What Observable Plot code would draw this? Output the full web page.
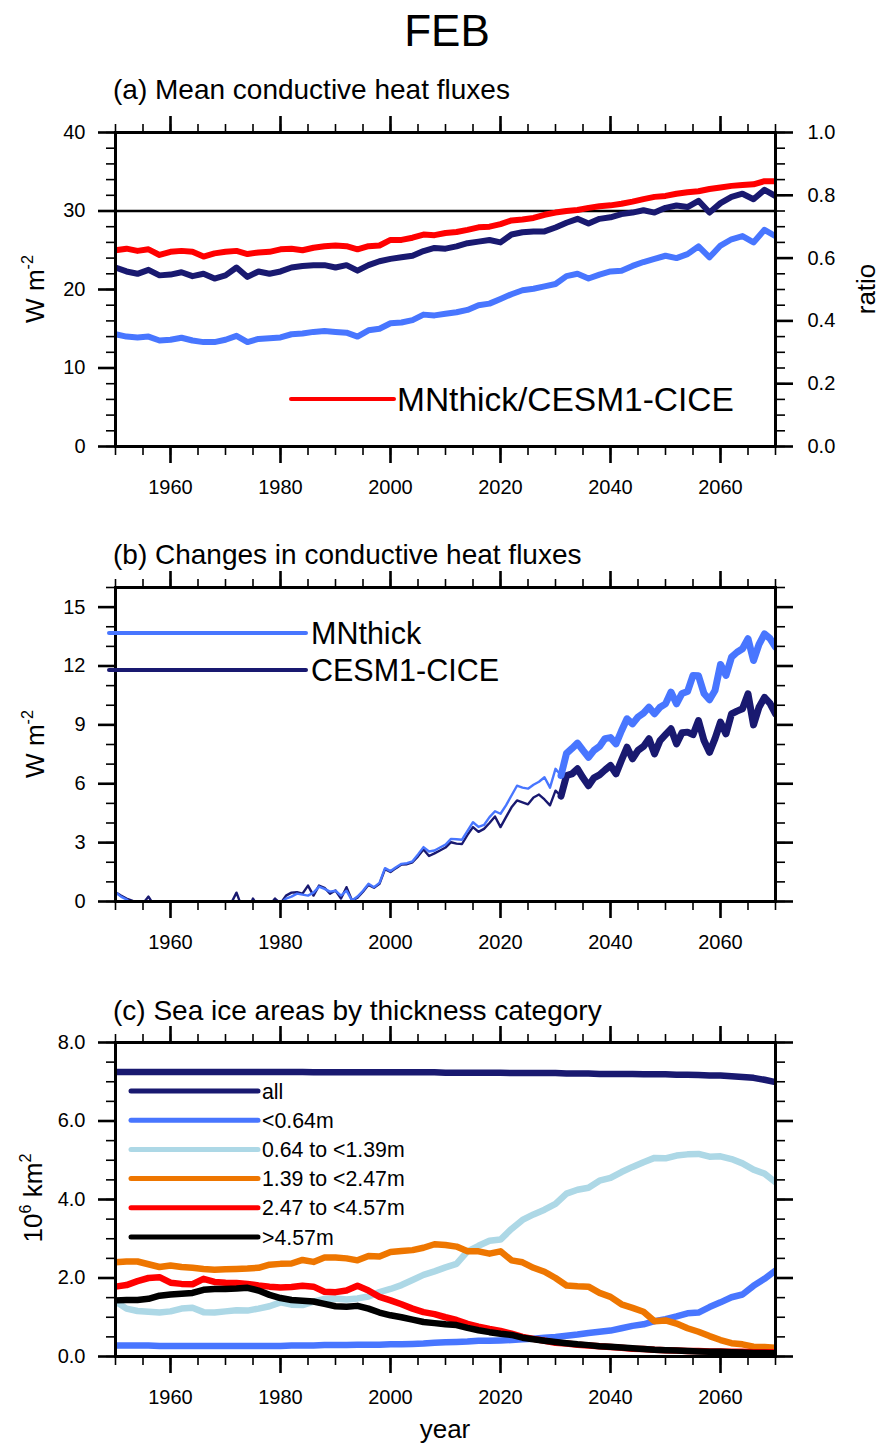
<!DOCTYPE html>
<html><head><meta charset="utf-8">
<script src="https://cdn.jsdelivr.net/npm/d3@7"></script>
<script src="https://cdn.jsdelivr.net/npm/@observablehq/plot@0.6"></script>
<style>
body{margin:0;background:#fff;}
#root{position:relative;width:882px;height:1446px;overflow:hidden;font-family:"Liberation Sans",Arial,Helvetica,sans-serif;}
#overlay{position:absolute;left:0;top:0;}
</style></head><body><div id="root"></div>
<script>
// ---------- data ----------
const years2 = d3.range(1950, 2071, 2);   // biennial readings (panels a, c)
const years1 = d3.range(1950, 2071, 1);   // annual readings (panel b)

const xMajor = [1960, 1980, 2000, 2020, 2040, 2060];
const xMinor = d3.range(1950, 2071, 5);

// (a) mean conductive heat flux, W m-2
const mnFlux = [
 14.3,14.0,13.9,14.0,13.5,13.6,13.85,13.5,13.3,13.3,
 13.6,14.1,13.3,13.7,13.8,13.9,14.3,14.4,14.6,14.7,
 14.6,14.5,14.0,14.8,15.0,15.7,15.8,16.1,16.8,16.7,
 16.9,17.1,17.4,18.0,18.2,18.8,19.4,19.9,20.1,20.4,
 20.7,21.7,22.0,21.4,21.9,22.3,22.4,23.0,23.5,23.9,
 24.3,24.0,24.5,25.5,24.1,25.6,26.4,26.8,26.0,27.6,
 26.8];
const cesmFlux = [
 22.8,22.3,22.0,22.5,21.8,21.9,22.2,21.7,22.0,21.4,
 21.8,22.8,21.6,22.3,22.0,22.3,22.8,23.0,23.1,23.1,
 22.8,23.1,22.4,23.1,23.6,23.9,24.1,24.3,24.9,25.3,
 25.2,25.5,25.9,26.1,26.3,26.0,27.0,27.3,27.4,27.4,
 27.9,28.5,29.0,28.4,29.0,29.2,29.6,29.8,30.1,29.8,
 30.4,30.7,30.5,31.3,29.8,31.0,31.8,32.2,31.5,32.7,
 31.9];
const fluxRatio = [
 0.625,0.630,0.623,0.628,0.610,0.620,0.623,0.620,0.605,0.615,
 0.620,0.623,0.613,0.618,0.620,0.628,0.630,0.625,0.633,0.638,
 0.640,0.638,0.628,0.638,0.640,0.658,0.658,0.665,0.675,0.673,
 0.680,0.683,0.690,0.698,0.700,0.708,0.720,0.723,0.728,0.738,
 0.745,0.750,0.753,0.760,0.765,0.768,0.773,0.780,0.788,0.795,
 0.798,0.805,0.810,0.813,0.820,0.825,0.830,0.833,0.835,0.845,
 0.845];
const ratioRef = 0.75;
const ratioMax = 1.0, fluxMax = 40;

// (b) change in conductive heat flux, W m-2 (annual)
const mnChange = [
 0.47,0.25,0.10,-0.10,-0.30,-0.30,-0.20,-0.40,-0.50,-0.50,
 -0.60,-0.60,-0.50,-0.60,-0.70,-0.80,-0.90,-0.80,-0.80,-0.70,
 -0.50,-0.30,-0.10,-0.60,-0.80,-0.30,-0.50,-0.60,-0.40,-0.20,
 -0.10,0.15,0.25,0.40,0.35,0.30,0.45,0.76,0.64,0.50,
 0.55,0.30,0.55,0.05,0.25,0.55,0.90,0.73,0.95,1.70,
 1.55,1.75,1.92,1.95,2.05,2.40,2.77,2.55,2.60,2.75,
 2.90,3.19,3.17,3.15,3.60,4.04,3.80,3.90,4.30,4.60,
 4.47,4.90,5.40,5.90,5.80,5.75,5.95,6.10,6.33,5.80,
 6.76,6.42,7.55,7.80,8.07,7.70,7.35,7.70,7.90,8.30,
 8.35,8.03,8.70,9.31,9.05,9.40,9.60,9.90,9.56,9.90,
 10.07,10.67,10.07,10.60,10.70,11.52,11.50,10.60,10.28,10.75,
 12.08,11.52,12.45,12.70,12.88,13.39,12.28,13.10,13.64,13.40,
 12.96];
const cesmChange = [
 0.47,0.30,0.15,0.05,-0.10,-0.10,0.25,-0.20,-0.40,-0.50,
 -0.50,-0.40,-0.50,-0.60,-0.60,-0.70,-0.80,-0.70,-0.60,-0.50,
 -0.30,-0.10,0.45,-0.30,-0.50,0.15,-0.30,-0.40,-0.20,0.15,
 -0.10,0.30,0.45,0.47,0.40,0.81,0.30,0.81,0.70,0.40,
 0.56,0.15,0.73,0.05,0.20,0.50,0.85,0.70,0.90,1.65,
 1.50,1.70,1.88,1.90,2.00,2.30,2.65,2.32,2.45,2.60,
 2.75,3.02,2.95,2.93,3.40,3.79,3.55,3.70,4.00,4.33,
 3.79,4.30,4.80,5.15,5.05,4.95,5.30,5.45,5.20,4.90,
 5.65,5.37,6.42,6.50,6.76,6.30,5.90,6.30,6.45,6.70,
 6.93,6.50,7.20,7.86,7.27,7.70,7.90,8.29,7.52,8.20,
 8.50,8.80,8.03,8.60,8.63,8.50,9.22,8.20,7.60,8.30,
 9.14,8.54,9.56,9.70,9.82,10.58,9.00,9.90,10.40,10.10,
 9.56];
const boldFrom = 2031; // thick line from this year on

// (c) sea ice area by thickness category, 10^6 km2
const catAll = [
 7.25,7.25,7.25,7.25,7.25,7.25,7.25,7.25,7.25,7.25,
 7.25,7.25,7.25,7.25,7.25,7.25,7.25,7.25,7.24,7.24,
 7.24,7.24,7.24,7.24,7.24,7.24,7.24,7.24,7.24,7.24,
 7.23,7.23,7.23,7.23,7.23,7.23,7.22,7.22,7.22,7.22,
 7.22,7.21,7.21,7.21,7.20,7.20,7.20,7.20,7.19,7.19,
 7.19,7.18,7.18,7.17,7.16,7.16,7.14,7.12,7.10,7.05,
 6.99];
const catThin = [
 0.28,0.28,0.28,0.28,0.27,0.27,0.27,0.27,0.27,0.27,
 0.27,0.27,0.27,0.27,0.27,0.27,0.28,0.28,0.28,0.29,
 0.29,0.29,0.30,0.30,0.30,0.31,0.31,0.32,0.33,0.35,
 0.36,0.37,0.38,0.40,0.40,0.41,0.42,0.44,0.45,0.48,
 0.50,0.53,0.56,0.60,0.63,0.66,0.72,0.78,0.82,0.90,
 0.95,1.02,1.10,1.12,1.26,1.38,1.51,1.58,1.80,1.98,
 2.19];
const catMid = [
 1.40,1.22,1.16,1.14,1.12,1.15,1.22,1.24,1.13,1.12,
 1.15,1.18,1.17,1.22,1.28,1.38,1.32,1.31,1.40,1.47,
 1.48,1.45,1.48,1.53,1.64,1.72,1.82,1.95,2.08,2.17,
 2.27,2.36,2.68,2.82,2.95,2.98,3.25,3.48,3.62,3.74,
 3.89,4.15,4.25,4.30,4.48,4.55,4.70,4.83,4.95,5.06,
 5.05,5.12,5.15,5.16,5.09,5.10,5.03,4.92,4.76,4.66,
 4.44];
const catThick = [
 2.40,2.42,2.42,2.35,2.28,2.32,2.28,2.26,2.23,2.21,
 2.22,2.23,2.24,2.26,2.34,2.36,2.37,2.46,2.41,2.52,
 2.52,2.50,2.45,2.56,2.55,2.66,2.69,2.71,2.77,2.86,
 2.84,2.80,2.68,2.68,2.62,2.68,2.45,2.40,2.26,2.16,
 2.00,1.81,1.79,1.78,1.62,1.52,1.33,1.24,1.14,0.90,
 0.92,0.84,0.72,0.63,0.52,0.42,0.34,0.31,0.25,0.24,
 0.22];
const catThicker = [
 1.78,1.82,1.92,2.00,2.02,1.88,1.85,1.84,1.98,1.90,
 1.88,1.87,1.85,1.81,1.78,1.76,1.77,1.80,1.78,1.65,
 1.64,1.68,1.80,1.68,1.52,1.43,1.33,1.22,1.13,1.08,
 1.00,0.93,0.83,0.76,0.70,0.65,0.58,0.50,0.45,0.40,
 0.35,0.33,0.30,0.28,0.26,0.24,0.22,0.20,0.19,0.17,
 0.16,0.15,0.14,0.14,0.13,0.13,0.12,0.12,0.11,0.11,
 0.11];
const catThickest = [
 1.43,1.44,1.44,1.47,1.55,1.58,1.60,1.62,1.70,1.72,
 1.72,1.73,1.75,1.68,1.57,1.49,1.44,1.42,1.40,1.34,
 1.28,1.27,1.29,1.22,1.12,1.05,1.00,0.94,0.88,0.85,
 0.82,0.80,0.73,0.67,0.62,0.58,0.55,0.48,0.44,0.40,
 0.37,0.34,0.31,0.29,0.26,0.25,0.23,0.21,0.19,0.17,
 0.16,0.15,0.14,0.13,0.12,0.12,0.11,0.10,0.09,0.09,
 0.08];
const catLabels = ["all", "<0.64m", "0.64 to <1.39m", "1.39 to <2.47m", "2.47 to <4.57m", ">4.57m"];

const C = {navy:"#191970", royal:"#4876ff", pale:"#add8e6", orange:"#ee7600", red:"#ff0000", black:"#000000"};

// ---------- helpers ----------
const tidy = (yrs, vals, k = 1) => yrs.map((year, i) => ({year, value: vals[i] * k}));
const FONT = "Liberation Sans, Arial, Helvetica, sans-serif";
const TICK_FS = 20;

function frameAxes({yMajor, yMinor, yFmt, rMajor, rFmt}) {
  const blank = () => "";
  return [
    Plot.axisX({anchor:"bottom", ticks:xMinor, tickSize:9, tickFormat:blank, strokeWidth:1.6, label:null}),
    Plot.axisX({anchor:"bottom", ticks:xMajor, tickSize:17, tickPadding:16, tickFormat:d => String(d), strokeWidth:2.6, fontSize:TICK_FS, label:null}),
    Plot.axisX({anchor:"top", ticks:xMinor, tickSize:9, tickFormat:blank, strokeWidth:1.6, label:null}),
    Plot.axisX({anchor:"top", ticks:xMajor, tickSize:17, tickFormat:blank, strokeWidth:2.6, label:null}),
    Plot.axisY({anchor:"left", ticks:yMinor, tickSize:9, tickFormat:blank, strokeWidth:1.6, label:null}),
    Plot.axisY({anchor:"left", ticks:yMajor, tickSize:17, tickPadding:13, tickFormat:yFmt, strokeWidth:2.6, fontSize:TICK_FS, label:null}),
    Plot.axisY({anchor:"right", ticks:yMinor, tickSize:9, tickFormat:blank, strokeWidth:1.6, label:null}),
    Plot.axisY({anchor:"right", ticks:rMajor || yMajor, tickSize:17, tickPadding:15, tickFormat:rFmt || blank, strokeWidth:2.6, fontSize:TICK_FS, label:null})
  ];
}

function panel(top, yDomain, marks, axes) {
  const svg = Plot.plot({
    width: 882, height: 400,
    marginLeft: 115, marginRight: 107, marginTop: 22, marginBottom: 64,
    x: {domain: [1950, 2070]},
    y: {domain: yDomain},
    style: {fontFamily: FONT, fontSize: TICK_FS + "px", color: "black", background: "transparent", overflow: "visible"},
    marks: [...marks, ...axes, Plot.frame({strokeWidth: 3, stroke: "black"})]
  });
  svg.style.position = "absolute";
  svg.style.left = "0px";
  svg.style.top = top + "px";
  document.getElementById("root").appendChild(svg);
}

const lineOpts = (stroke, w) => ({x:"year", y:"value", stroke, strokeWidth:w, strokeLinejoin:"round", strokeLinecap:"round", clip:true});

// ---------- panel (a) ----------
panel(110, [0, fluxMax], [
  Plot.ruleY([ratioRef * fluxMax / ratioMax], {stroke:"black", strokeWidth:2.5}),
  Plot.line(tidy(years2, mnFlux), lineOpts(C.royal, 6)),
  Plot.line(tidy(years2, cesmFlux), lineOpts(C.navy, 6)),
  Plot.line(tidy(years2, fluxRatio, fluxMax / ratioMax), lineOpts(C.red, 6))
], frameAxes({
  yMajor: [0, 10, 20, 30, 40], yMinor: d3.range(0, 41, 2), yFmt: d => String(d),
  rMajor: [0, 8, 16, 24, 32, 40], rFmt: d => (d / fluxMax * ratioMax).toFixed(1)
}));

// ---------- panel (b) ----------
const bMn = tidy(years1, mnChange), bCe = tidy(years1, cesmChange);
panel(565, [0, 16], [
  Plot.line(bCe.filter(d => d.year <= boldFrom), lineOpts(C.navy, 2.4)),
  Plot.line(bMn.filter(d => d.year <= boldFrom), lineOpts(C.royal, 2.4)),
  Plot.line(bCe.filter(d => d.year >= boldFrom), lineOpts(C.navy, 7)),
  Plot.line(bMn.filter(d => d.year >= boldFrom), lineOpts(C.royal, 7))
], frameAxes({
  yMajor: [0, 3, 6, 9, 12, 15], yMinor: d3.range(0, 17, 1), yFmt: d => String(d)
}));

// ---------- panel (c) ----------
const cSeries = [catAll, catThin, catMid, catThick, catThicker, catThickest];
const cColors = [C.navy, C.royal, C.pale, C.orange, C.red, C.black];
panel(1020, [0, 8],
  cSeries.map((s, i) => Plot.line(tidy(years2, s), lineOpts(cColors[i], 6.5))),
  frameAxes({
    yMajor: [0, 2, 4, 6, 8], yMinor: d3.range(0, 8.01, 0.5), yFmt: d => d.toFixed(1)
  }));

// ---------- titles, axis titles, legends ----------
const ov = d3.select("#root").append("svg").attr("id", "overlay")
  .attr("width", 882).attr("height", 1446).style("font-family", FONT);

function txt(x, y, s, size, anchor = "start") {
  return ov.append("text").attr("x", x).attr("y", y).attr("font-size", size)
    .attr("text-anchor", anchor).attr("fill", "black").text(s);
}
function vtxt(x, y, parts, size) {
  const t = ov.append("text").attr("transform", `translate(${x},${y}) rotate(-90)`)
    .attr("text-anchor", "middle").attr("font-size", size).attr("fill", "black");
  parts.forEach(p => {
    const ts = t.append("tspan").text(p.t);
    if (p.sup) ts.attr("font-size", size * 0.62).attr("dy", -size * 0.42);
    else if (p.after) ts.attr("dy", size * 0.42);
  });
}
function legLine(x1, x2, y, color, w) {
  ov.append("line").attr("x1", x1).attr("x2", x2).attr("y1", y).attr("y2", y)
    .attr("stroke", color).attr("stroke-width", w).attr("stroke-linecap", "round");
}

txt(447, 46, "FEB", 44, "middle");
txt(113, 99, "(a) Mean conductive heat fluxes", 28);
txt(113, 564, "(b) Changes in conductive heat fluxes", 28);
txt(113, 1020, "(c) Sea ice areas by thickness category", 28);

vtxt(44, 289, [{t:"W m"}, {t:"-2", sup:true}], 26);
vtxt(875, 289, [{t:"ratio"}], 26);
vtxt(44, 744, [{t:"W m"}, {t:"-2", sup:true}], 26);
vtxt(42, 1198, [{t:"10"}, {t:"6", sup:true}, {t:" km", after:true}, {t:"2", sup:true}], 26);
txt(445, 1438, "year", 26, "middle");

// legend (a)
legLine(291, 394, 399, C.red, 4);
txt(397, 411, "MNthick/CESM1-CICE", 33.5);
// legend (b)
legLine(109, 306, 633, C.royal, 4);
txt(311, 644, "MNthick", 30.5);
legLine(109, 306, 670, C.navy, 4);
txt(311, 681, "CESM1-CICE", 30.5);
// legend (c)
catLabels.forEach((lab, i) => {
  const y = 1091 + i * 29.2;
  legLine(131, 258, y, cColors[i], 5);
  txt(262, y + 7.5, lab, 21.3);
});
</script></body></html>
